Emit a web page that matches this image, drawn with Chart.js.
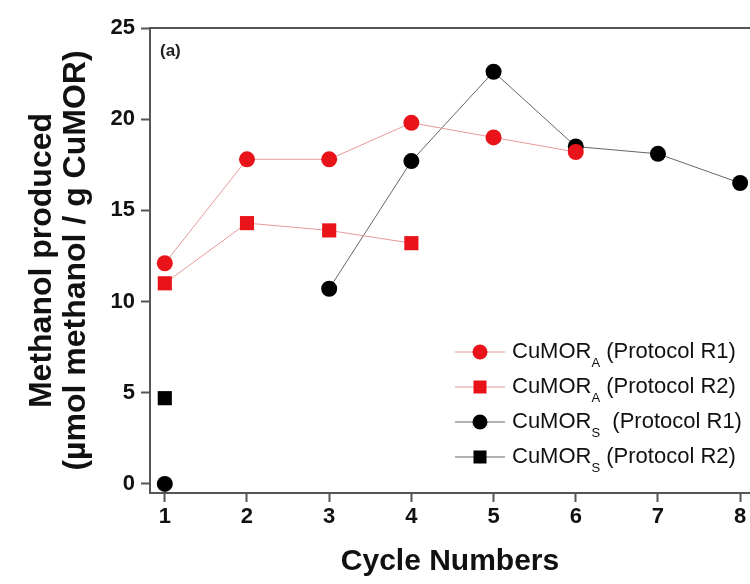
<!DOCTYPE html>
<html>
<head>
<meta charset="utf-8">
<script src="https://cdn.jsdelivr.net/npm/chart.js@4.4.1/dist/chart.umd.min.js"></script>
<style>
    html, body { margin: 0; padding: 0; background: #fff; }
    #wrap { width: 750px; height: 584px; }
</style>
</head>
<body>
<div id="wrap"><canvas id="chart" width="750" height="584"></canvas></div>
<script>
// 데이터
const cycles = [1, 2, 3, 4, 5, 6, 7, 8];
const aR1 = [12.1, 17.8, 17.8, 19.8, 19.0, 18.2, null, null];
const aR2 = [11.0, 14.3, 13.9, 13.2, null, null, null, null];
const sR1 = [0, null, 10.7, 17.7, 22.6, 18.5, 18.1, 16.5];
const sR2 = [4.7, null, null, null, null, null, null, null];
const xTicks = [1, 2, 3, 4, 5, 6, 7, 8];
const yTicks = [0, 5, 10, 15, 20, 25];

// 범례 항목 (이름, 아래첨자, 나머지 텍스트)
const legendItems = [
    { base: 'CuMOR', sub: 'A', rest: ' (Protocol R1)', color: '#e8141a', line: '#e89a9a', shape: 'circle' },
    { base: 'CuMOR', sub: 'A', rest: ' (Protocol R2)', color: '#e8141a', line: '#e89a9a', shape: 'square' },
    { base: 'CuMOR', sub: 'S', rest: '  (Protocol R1)', color: '#000', line: '#666', shape: 'circle' },
    { base: 'CuMOR', sub: 'S', rest: ' (Protocol R2)', color: '#000', line: '#666', shape: 'square' }
];

const toPts = arr => cycles.map((c, i) => ({ x: c, y: arr[i] }));

const tickFont = { family: "'Liberation Sans Narrow', 'Arial Narrow', 'Liberation Sans', sans-serif", size: 22, weight: 'bold' };
const axisColor = '#555';

// 상단 테두리, (a) 라벨, 범례를 그리는 플러그인
const extras = {
    id: 'extras',
    afterDraw(chart) {
        const ctx = chart.ctx;
        const area = chart.chartArea;
        ctx.save();
        ctx.strokeStyle = axisColor;
        ctx.lineWidth = 2;
        ctx.beginPath();
        ctx.moveTo(area.left, area.top);
        ctx.lineTo(area.right, area.top);
        ctx.stroke();

        ctx.fillStyle = '#222';
        ctx.font = "bold 17px 'Liberation Sans', Arial, sans-serif";
        ctx.textBaseline = 'middle';
        ctx.fillText('(a)', 160, 51);

        let y = 352;
        legendItems.forEach(item => {
            ctx.strokeStyle = item.line;
            ctx.lineWidth = 1;
            ctx.beginPath();
            ctx.moveTo(455, y);
            ctx.lineTo(505, y);
            ctx.stroke();
            ctx.fillStyle = item.color;
            if (item.shape === 'circle') {
                ctx.beginPath();
                ctx.arc(480, y, 7.5, 0, Math.PI * 2);
                ctx.fill();
            } else {
                ctx.fillRect(473.5, y - 6.5, 13, 13);
            }
            ctx.fillStyle = '#111';
            ctx.font = "22px 'Liberation Sans', Arial, sans-serif";
            ctx.textBaseline = 'middle';
            let tx = 512;
            ctx.fillText(item.base, tx, y);
            tx += ctx.measureText(item.base).width;
            ctx.font = "13px 'Liberation Sans', Arial, sans-serif";
            ctx.fillText(item.sub, tx, y + 11);
            tx += ctx.measureText(item.sub).width;
            ctx.font = "22px 'Liberation Sans', Arial, sans-serif";
            ctx.fillText(item.rest, tx, y);
            y += 35;
        });
        ctx.restore();
    }
};

const ctx = document.getElementById('chart').getContext('2d');
const chart = new Chart(ctx, {
    type: 'line',
    data: {
        datasets: [
            { label: 'CuMOR_A (Protocol R1)', data: toPts(aR1), borderColor: '#e89a9a', backgroundColor: '#e8141a',
              borderWidth: 1, pointStyle: 'circle', pointRadius: 8, pointBorderWidth: 0, spanGaps: false },
            { label: 'CuMOR_A (Protocol R2)', data: toPts(aR2), borderColor: '#e89a9a', backgroundColor: '#e8141a',
              borderWidth: 1, pointStyle: 'rect', pointRadius: 10, pointBorderWidth: 0, spanGaps: false },
            { label: 'CuMOR_S (Protocol R1)', data: toPts(sR1), borderColor: '#666', backgroundColor: '#000',
              borderWidth: 1, pointStyle: 'circle', pointRadius: 8, pointBorderWidth: 0, spanGaps: false },
            { label: 'CuMOR_S (Protocol R2)', data: toPts(sR2), borderColor: '#666', backgroundColor: '#000',
              borderWidth: 1, pointStyle: 'rect', pointRadius: 10, pointBorderWidth: 0, spanGaps: false }
        ]
    },
    options: {
        responsive: false,
        animation: false,
        layout: { autoPadding: false, padding: { top: 28, right: 0, left: 0, bottom: 0 } },
        plugins: { legend: { display: false }, tooltip: { enabled: false } },
        scales: {
            x: {
                type: 'linear',
                min: 0.82,
                max: 8.12,
                afterBuildTicks: scale => { scale.ticks = xTicks.map(v => ({ value: v })); },
                afterFit: scale => { scale.height = 91; scale.paddingRight = 0; scale.paddingLeft = 0; },
                grid: { drawOnChartArea: false, drawTicks: true, tickLength: 9, tickColor: axisColor, tickWidth: 2 },
                border: { display: true, color: axisColor, width: 2 },
                ticks: { color: '#111', font: tickFont, padding: 2, maxRotation: 0 },
                title: { display: true, text: 'Cycle Numbers', color: '#111',
                         font: { family: "'Liberation Sans', Arial, sans-serif", size: 30, weight: 'bold' }, padding: { top: 18 } }
            },
            y: {
                min: -0.5,
                max: 25,
                afterBuildTicks: scale => { scale.ticks = yTicks.map(v => ({ value: v })); },
                afterFit: scale => { scale.width = 150; },
                grid: { drawOnChartArea: false, drawTicks: true, tickLength: 9, tickColor: axisColor, tickWidth: 2 },
                border: { display: true, color: axisColor, width: 2 },
                ticks: { color: '#111', font: tickFont, padding: 6 },
                title: { display: true, text: ['Methanol produced', '(\u00b5mol methanol / g CuMOR)'], color: '#111',
                         font: { family: "'Liberation Sans', Arial, sans-serif", size: 32, weight: 'bold', lineHeight: 1.06 },
                         padding: { top: 25, bottom: 0 } }
            }
        }
    },
    plugins: [extras]
});
</script>
</body>
</html>
